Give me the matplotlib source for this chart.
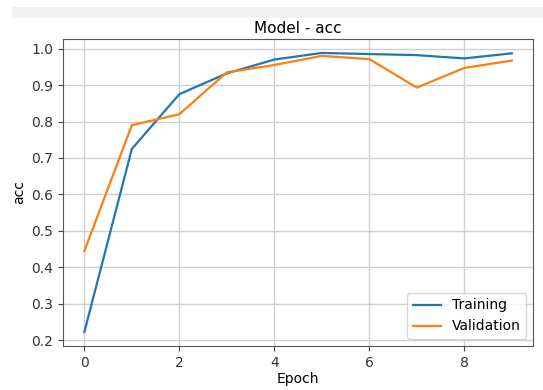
import matplotlib.pyplot as plt
from matplotlib.patches import Rectangle

epochs = list(range(10))
train_acc = [0.223, 0.725, 0.875, 0.932, 0.970, 0.988, 0.985, 0.982, 0.973, 0.987]
val_acc = [0.445, 0.790, 0.820, 0.935, 0.955, 0.980, 0.971, 0.893, 0.947, 0.967]

fig = plt.figure(figsize=(5.43, 3.90), dpi=100)
# light grey strip at the top of the screenshot
fig.patches.append(Rectangle((0.022, 0.955), 0.978, 0.028, transform=fig.transFigure,
                             facecolor="#f1f1f1", edgecolor="none", zorder=-1))
ax = fig.add_axes([0.116, 0.113, 0.866, 0.787])

ax.plot(epochs, train_acc, color="#1f77b4", lw=1.6, label="Training")
ax.plot(epochs, val_acc, color="#ff7f0e", lw=1.6, label="Validation")

ax.set_title("Model - acc", fontsize=11, pad=4)
ax.set_xlabel("Epoch", labelpad=2)
ax.set_ylabel("acc")
ax.set_xticks([0, 2, 4, 6, 8])
ax.set_yticks([0.2, 0.3, 0.4, 0.5, 0.6, 0.7, 0.8, 0.9, 1.0])
ax.grid(True, color="#d0d0d0", lw=1)
for s in ax.spines.values():
    s.set_color("#555555")
ax.tick_params(colors="#444444", labelcolor="#333333")
ax.legend(loc="lower right")

fig.savefig("out.png", dpi=100)
